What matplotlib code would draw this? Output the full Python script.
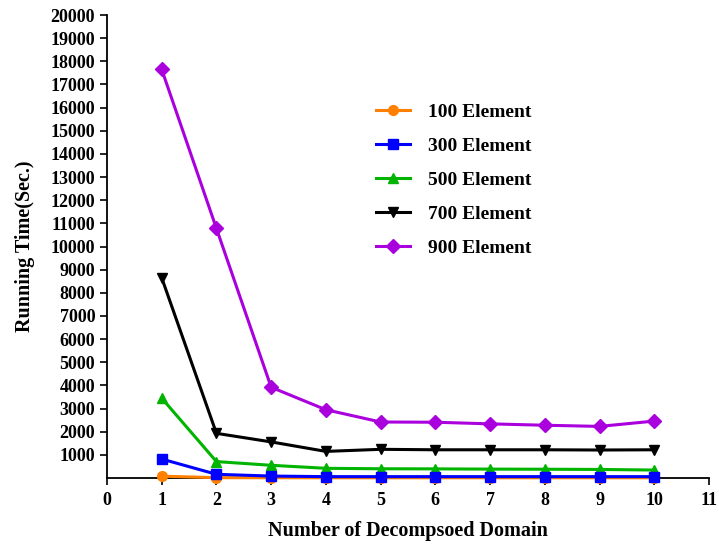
import matplotlib.pyplot as plt

# Running time vs number of decomposed domains for each mesh size
domains = [1, 2, 3, 4, 5, 6, 7, 8, 9, 10]

time_100 = [80, 15, 12, 10, 10, 10, 10, 10, 10, 10]
time_300 = [820, 160, 85, 60, 60, 60, 60, 60, 60, 60]
time_500 = [3450, 710, 550, 420, 400, 395, 385, 380, 370, 345]
time_700 = [8650, 1930, 1560, 1150, 1240, 1220, 1220, 1220, 1210, 1220]
time_900 = [17650, 10780, 3920, 2950, 2420, 2410, 2340, 2280, 2230, 2460]

labels = ["100 Element", "300 Element", "500 Element", "700 Element", "900 Element"]
y_ticks = list(range(1000, 20001, 1000))
x_ticks = list(range(0, 12))

plt.rcParams["font.family"] = ["Liberation Serif", "DejaVu Serif"]
plt.rcParams["font.weight"] = "bold"

fig = plt.figure(figsize=(7.19, 5.47), dpi=100)
ax = fig.add_axes([0.1488, 0.1261, 0.8373, 0.8464])

series = [
    (time_100, "#FF8000", "o", 3),
    (time_300, "#0000FF", "s", 6),
    (time_500, "#00B400", "^", 5),
    (time_700, "#000000", "v", 4),
    (time_900, "#AA00DD", "D", 2),
]

for (values, color, marker, z), label in zip(series, labels):
    ax.plot(domains, values, color=color, marker=marker, markersize=7,
            linewidth=2.2, label=label, zorder=z, clip_on=False)

ax.set_xlim(0, 11)
ax.set_ylim(0, 20000)
ax.set_xticks(x_ticks)
ax.set_yticks(y_ticks)
ax.tick_params(direction="out", length=5, width=1.2, labelsize=13)
ax.tick_params(axis="x", pad=5)
for lbl in ax.get_xticklabels() + ax.get_yticklabels():
    lbl.set_fontweight("bold")

ax.spines["top"].set_visible(False)
ax.spines["right"].set_visible(False)
ax.spines["left"].set_linewidth(1.3)
ax.spines["bottom"].set_linewidth(1.3)

ax.set_xlabel("Number of Decompsoed Domain", fontsize=14.5, fontweight="bold", labelpad=9)
ax.set_ylabel("Running Time(Sec.)", fontsize=14.5, fontweight="bold", labelpad=11)

ax.legend(loc="upper left", bbox_to_anchor=(0.447, 0.81), frameon=False,
          borderpad=0, borderaxespad=0, handlelength=1.75, handletextpad=0.9,
          labelspacing=0.85, prop={"size": 14, "weight": "bold"})

fig.savefig("out.png", dpi=100)
